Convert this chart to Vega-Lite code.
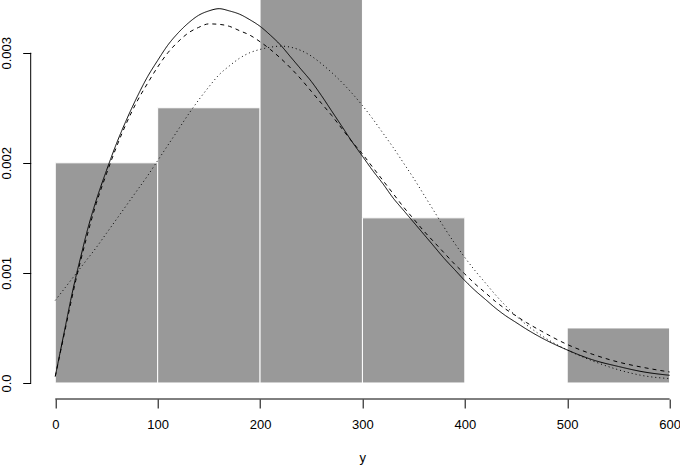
{
  "$schema": "https://vega.github.io/schema/vega-lite/v6.json",
  "width": 643,
  "height": 399,
  "autosize": "none",
  "padding": {"left": 30.7, "top": 0, "right": 6.3, "bottom": 66},
  "background": "white",
  "config": {"view": {"stroke": null}},
  "datasets": {
    "bins": [
      {"bin_start": 0, "bin_end": 100, "density": 0.002},
      {"bin_start": 100, "bin_end": 200, "density": 0.0025},
      {"bin_start": 200, "bin_end": 300, "density": 0.0035},
      {"bin_start": 300, "bin_end": 400, "density": 0.0015},
      {"bin_start": 400, "bin_end": 500, "density": 0},
      {"bin_start": 500, "bin_end": 600, "density": 0.0005}
    ],
    "curves": [
      {"curve": "A", "x": 0, "density": 0.00006},
      {"curve": "A", "x": 5, "density": 0.00029},
      {"curve": "A", "x": 10, "density": 0.00052},
      {"curve": "A", "x": 15, "density": 0.00075},
      {"curve": "A", "x": 20, "density": 0.00096},
      {"curve": "A", "x": 25, "density": 0.00115},
      {"curve": "A", "x": 30, "density": 0.00134},
      {"curve": "A", "x": 40, "density": 0.00166},
      {"curve": "A", "x": 50, "density": 0.00193},
      {"curve": "A", "x": 60, "density": 0.00218},
      {"curve": "A", "x": 70, "density": 0.0024},
      {"curve": "A", "x": 80, "density": 0.0026},
      {"curve": "A", "x": 90, "density": 0.00278},
      {"curve": "A", "x": 100, "density": 0.00293},
      {"curve": "A", "x": 110, "density": 0.00307},
      {"curve": "A", "x": 120, "density": 0.00318},
      {"curve": "A", "x": 130, "density": 0.00327},
      {"curve": "A", "x": 140, "density": 0.00334},
      {"curve": "A", "x": 150, "density": 0.00338},
      {"curve": "A", "x": 160, "density": 0.0034},
      {"curve": "A", "x": 170, "density": 0.00338},
      {"curve": "A", "x": 180, "density": 0.00335},
      {"curve": "A", "x": 190, "density": 0.0033},
      {"curve": "A", "x": 200, "density": 0.00324},
      {"curve": "A", "x": 210, "density": 0.00316},
      {"curve": "A", "x": 220, "density": 0.00307},
      {"curve": "A", "x": 230, "density": 0.00296},
      {"curve": "A", "x": 240, "density": 0.00285},
      {"curve": "A", "x": 250, "density": 0.00274},
      {"curve": "A", "x": 260, "density": 0.00261},
      {"curve": "A", "x": 270, "density": 0.00247},
      {"curve": "A", "x": 280, "density": 0.00233},
      {"curve": "A", "x": 290, "density": 0.00219},
      {"curve": "A", "x": 300, "density": 0.00206},
      {"curve": "A", "x": 310, "density": 0.00193},
      {"curve": "A", "x": 320, "density": 0.00181},
      {"curve": "A", "x": 330, "density": 0.00168},
      {"curve": "A", "x": 340, "density": 0.00157},
      {"curve": "A", "x": 350, "density": 0.00146},
      {"curve": "A", "x": 360, "density": 0.00135},
      {"curve": "A", "x": 370, "density": 0.00124},
      {"curve": "A", "x": 380, "density": 0.00113},
      {"curve": "A", "x": 390, "density": 0.00103},
      {"curve": "A", "x": 400, "density": 0.00093},
      {"curve": "A", "x": 410, "density": 0.00084},
      {"curve": "A", "x": 420, "density": 0.00076},
      {"curve": "A", "x": 430, "density": 0.00068},
      {"curve": "A", "x": 440, "density": 0.00061},
      {"curve": "A", "x": 450, "density": 0.00055},
      {"curve": "A", "x": 460, "density": 0.00049},
      {"curve": "A", "x": 475, "density": 0.00041},
      {"curve": "A", "x": 500, "density": 0.0003},
      {"curve": "A", "x": 525, "density": 0.00021},
      {"curve": "A", "x": 550, "density": 0.00015},
      {"curve": "A", "x": 575, "density": 0.0001},
      {"curve": "A", "x": 600, "density": 0.00007},
      {"curve": "B", "x": 0, "density": 0.00006},
      {"curve": "B", "x": 5, "density": 0.00028},
      {"curve": "B", "x": 10, "density": 0.0005},
      {"curve": "B", "x": 15, "density": 0.00072},
      {"curve": "B", "x": 20, "density": 0.00093},
      {"curve": "B", "x": 25, "density": 0.00112},
      {"curve": "B", "x": 30, "density": 0.0013},
      {"curve": "B", "x": 40, "density": 0.00163},
      {"curve": "B", "x": 50, "density": 0.0019},
      {"curve": "B", "x": 60, "density": 0.00215},
      {"curve": "B", "x": 70, "density": 0.00237},
      {"curve": "B", "x": 80, "density": 0.00256},
      {"curve": "B", "x": 90, "density": 0.00272},
      {"curve": "B", "x": 100, "density": 0.00287},
      {"curve": "B", "x": 110, "density": 0.003},
      {"curve": "B", "x": 120, "density": 0.0031},
      {"curve": "B", "x": 130, "density": 0.00318},
      {"curve": "B", "x": 140, "density": 0.00323},
      {"curve": "B", "x": 150, "density": 0.003262},
      {"curve": "B", "x": 160, "density": 0.003258},
      {"curve": "B", "x": 170, "density": 0.00324},
      {"curve": "B", "x": 180, "density": 0.0032},
      {"curve": "B", "x": 190, "density": 0.00316},
      {"curve": "B", "x": 200, "density": 0.0031},
      {"curve": "B", "x": 210, "density": 0.00303},
      {"curve": "B", "x": 220, "density": 0.00295},
      {"curve": "B", "x": 230, "density": 0.00286},
      {"curve": "B", "x": 240, "density": 0.00276},
      {"curve": "B", "x": 250, "density": 0.00265},
      {"curve": "B", "x": 260, "density": 0.00254},
      {"curve": "B", "x": 270, "density": 0.00243},
      {"curve": "B", "x": 280, "density": 0.00231},
      {"curve": "B", "x": 290, "density": 0.00219},
      {"curve": "B", "x": 300, "density": 0.00208},
      {"curve": "B", "x": 310, "density": 0.00196},
      {"curve": "B", "x": 320, "density": 0.00184},
      {"curve": "B", "x": 330, "density": 0.00172},
      {"curve": "B", "x": 340, "density": 0.0016},
      {"curve": "B", "x": 350, "density": 0.00149},
      {"curve": "B", "x": 360, "density": 0.00138},
      {"curve": "B", "x": 370, "density": 0.00128},
      {"curve": "B", "x": 380, "density": 0.00118},
      {"curve": "B", "x": 390, "density": 0.00108},
      {"curve": "B", "x": 400, "density": 0.00099},
      {"curve": "B", "x": 410, "density": 0.0009},
      {"curve": "B", "x": 420, "density": 0.00082},
      {"curve": "B", "x": 430, "density": 0.00074},
      {"curve": "B", "x": 440, "density": 0.00067},
      {"curve": "B", "x": 450, "density": 0.00061},
      {"curve": "B", "x": 460, "density": 0.00055},
      {"curve": "B", "x": 475, "density": 0.00047},
      {"curve": "B", "x": 500, "density": 0.00035},
      {"curve": "B", "x": 525, "density": 0.00026},
      {"curve": "B", "x": 550, "density": 0.00019},
      {"curve": "B", "x": 575, "density": 0.00014},
      {"curve": "B", "x": 600, "density": 0.0001},
      {"curve": "C", "x": 0, "density": 0.00075},
      {"curve": "C", "x": 10, "density": 0.00087},
      {"curve": "C", "x": 20, "density": 0.00099},
      {"curve": "C", "x": 30, "density": 0.00111},
      {"curve": "C", "x": 40, "density": 0.00123},
      {"curve": "C", "x": 50, "density": 0.00136},
      {"curve": "C", "x": 60, "density": 0.00149},
      {"curve": "C", "x": 70, "density": 0.00162},
      {"curve": "C", "x": 80, "density": 0.00175},
      {"curve": "C", "x": 90, "density": 0.00188},
      {"curve": "C", "x": 100, "density": 0.00202},
      {"curve": "C", "x": 110, "density": 0.00216},
      {"curve": "C", "x": 120, "density": 0.0023},
      {"curve": "C", "x": 130, "density": 0.00244},
      {"curve": "C", "x": 140, "density": 0.00257},
      {"curve": "C", "x": 150, "density": 0.00269},
      {"curve": "C", "x": 160, "density": 0.0028},
      {"curve": "C", "x": 170, "density": 0.00288},
      {"curve": "C", "x": 180, "density": 0.00295},
      {"curve": "C", "x": 190, "density": 0.003},
      {"curve": "C", "x": 200, "density": 0.00303},
      {"curve": "C", "x": 210, "density": 0.00305},
      {"curve": "C", "x": 220, "density": 0.00306},
      {"curve": "C", "x": 230, "density": 0.00305},
      {"curve": "C", "x": 240, "density": 0.00302},
      {"curve": "C", "x": 250, "density": 0.00297},
      {"curve": "C", "x": 260, "density": 0.0029},
      {"curve": "C", "x": 270, "density": 0.00282},
      {"curve": "C", "x": 280, "density": 0.00273},
      {"curve": "C", "x": 290, "density": 0.00263},
      {"curve": "C", "x": 300, "density": 0.00252},
      {"curve": "C", "x": 310, "density": 0.0024},
      {"curve": "C", "x": 320, "density": 0.00227},
      {"curve": "C", "x": 330, "density": 0.00214},
      {"curve": "C", "x": 340, "density": 0.002},
      {"curve": "C", "x": 350, "density": 0.00186},
      {"curve": "C", "x": 360, "density": 0.00171},
      {"curve": "C", "x": 370, "density": 0.00156},
      {"curve": "C", "x": 380, "density": 0.00141},
      {"curve": "C", "x": 390, "density": 0.00127},
      {"curve": "C", "x": 400, "density": 0.00114},
      {"curve": "C", "x": 410, "density": 0.00102},
      {"curve": "C", "x": 420, "density": 0.00091},
      {"curve": "C", "x": 430, "density": 0.0008},
      {"curve": "C", "x": 440, "density": 0.0007},
      {"curve": "C", "x": 450, "density": 0.00061},
      {"curve": "C", "x": 460, "density": 0.00053},
      {"curve": "C", "x": 475, "density": 0.00043},
      {"curve": "C", "x": 500, "density": 0.0003},
      {"curve": "C", "x": 525, "density": 0.0002},
      {"curve": "C", "x": 550, "density": 0.00012},
      {"curve": "C", "x": 575, "density": 0.000065},
      {"curve": "C", "x": 600, "density": 0.00004}
    ]
  },
  "layer": [
    {
      "data": {"name": "bins"},
      "mark": {"type": "rect", "fill": "#999999", "stroke": "white", "strokeWidth": 1, "clip": true},
      "encoding": {
        "x": {
          "field": "bin_start", "type": "quantitative",
          "scale": {"domain": [-24, 604], "nice": false, "zero": false},
          "axis": {
            "values": [0, 100, 200, 300, 400, 500, 600],
            "format": "d",
            "domain": false, "grid": false,
            "tickSize": 9, "tickColor": "black", "tickWidth": 1,
            "labelColor": "black", "labelFont": "Liberation Sans", "labelFontSize": 13,
            "labelBaseline": "alphabetic", "labelPadding": 20, "labelFlush": false,
            "title": "y", "titleFont": "Liberation Sans", "titleFontSize": 13,
            "titleFontWeight": "normal", "titleColor": "black",
            "titleX": 331.6, "titleY": 62.7, "titleAlign": "center", "titleBaseline": "alphabetic"
          }
        },
        "x2": {"field": "bin_end"},
        "y": {
          "field": "density", "type": "quantitative",
          "scale": {"domain": [-0.0001455, 0.003479], "nice": false, "zero": false},
          "axis": {
            "values": [0, 0.001, 0.002, 0.003],
            "labelExpr": "datum.value == 0 ? '0.0' : format(datum.value, '.3f')",
            "domain": false, "grid": false,
            "tickSize": 8, "tickColor": "black", "tickWidth": 1,
            "labelColor": "black", "labelFont": "Liberation Sans", "labelFontSize": 13,
            "labelAngle": -90, "labelAlign": "center", "labelBaseline": "alphabetic",
            "labelPadding": 12.5, "labelFlush": false,
            "title": null
          }
        },
        "y2": {"datum": 0}
      }
    },
    {
      "data": {"name": "curves"},
      "mark": {"type": "line", "color": "black", "strokeWidth": 1, "clip": true, "interpolate": "monotone"},
      "encoding": {
        "x": {"field": "x", "type": "quantitative"},
        "y": {"field": "density", "type": "quantitative"},
        "strokeDash": {
          "field": "curve", "type": "nominal",
          "scale": {"domain": ["A", "B", "C"], "range": [[1, 0], [4, 4], [1, 3]]},
          "legend": null
        }
      }
    },
    {
      "data": {"values": [{}]},
      "mark": {"type": "rule", "color": "black", "strokeWidth": 1},
      "encoding": {
        "x": {"datum": 0},
        "x2": {"datum": 600},
        "y": {"datum": -0.0001455}
      }
    },
    {
      "data": {"values": [{}]},
      "mark": {"type": "rule", "color": "black", "strokeWidth": 1},
      "encoding": {
        "x": {"datum": -24},
        "y": {"datum": 0},
        "y2": {"datum": 0.003}
      }
    }
  ]
}
